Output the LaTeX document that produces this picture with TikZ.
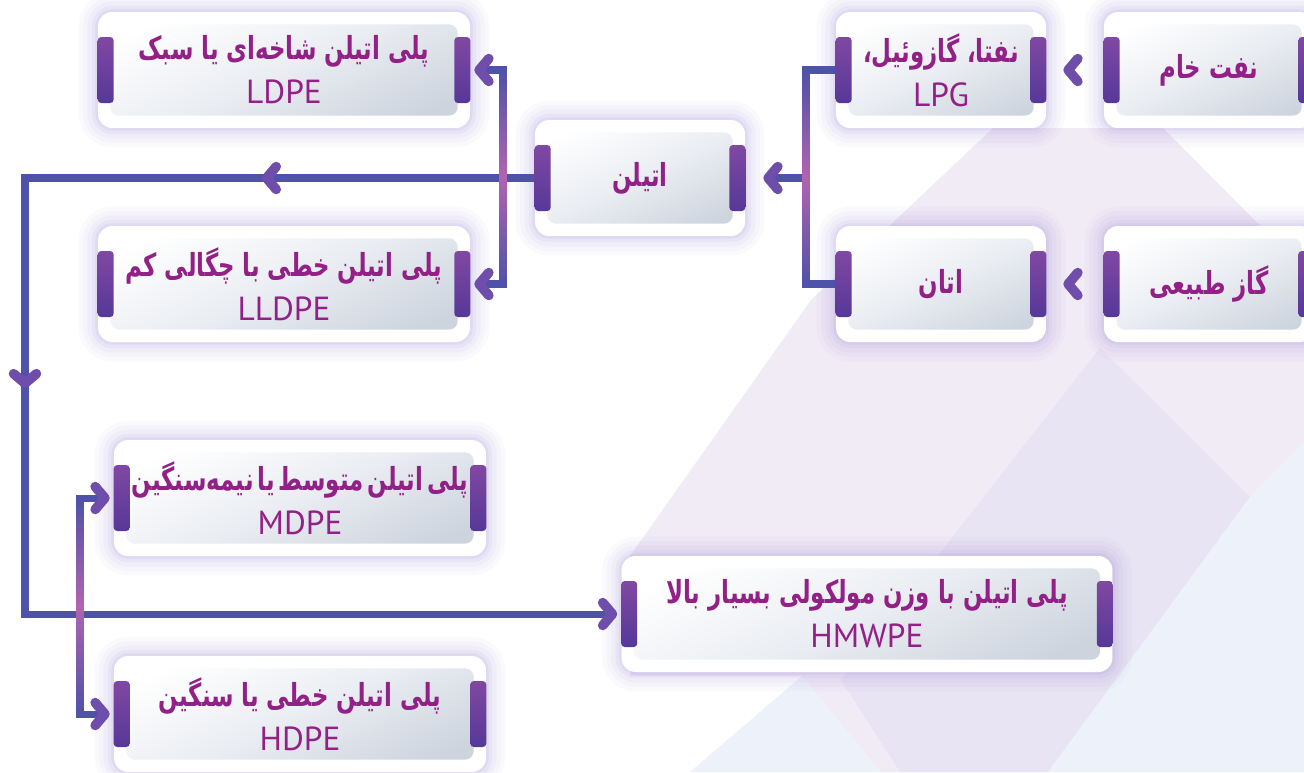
\documentclass[tikz,border=0pt]{standalone}
\usepackage{fontspec}
\setmainfont{PT Sans}
\newfontfamily\fafont[Script=Arabic,Scale=0.95,FakeStretch=0.72]{DejaVu Sans}
\TeXXeTstate=1
\usetikzlibrary{arrows.meta,decorations.markings}

\definecolor{linec}{RGB}{78,82,168}
\definecolor{pinkc}{RGB}{176,100,176}
\definecolor{tipc}{RGB}{110,78,170}
\definecolor{txtc}{RGB}{146,32,134}
\definecolor{glowc}{RGB}{140,120,210}
\definecolor{tabT}{RGB}{128,72,162}
\definecolor{tabB}{RGB}{86,56,152}
\definecolor{panelA}{RGB}{205,212,222}
\definecolor{panelB}{RGB}{234,237,242}
\definecolor{bgA}{RGB}{241,235,246}
\definecolor{bgB}{RGB}{233,228,243}
\definecolor{bgC}{RGB}{237,242,250}

\tikzset{
	pbox/.style={rounded corners=8pt, fill=white, minimum height=2.32cm, inner sep=0pt,
		align=center, text=txtc, font=\fontsize{19}{25}\selectfont,
		preaction={draw=glowc, line width=22pt, opacity=.035},
		preaction={draw=glowc, line width=17pt, opacity=.04},
		preaction={draw=glowc, line width=12pt, opacity=.05},
		preaction={draw=glowc, line width=7pt, opacity=.07},
		preaction={draw=glowc, line width=3pt, opacity=.09},
		path picture={\shade[rounded corners=5pt, bottom color=panelA, top color=white,
			middle color=panelB, shading angle=25]
			([shift={(7pt,7pt)}]path picture bounding box.south west) rectangle
			([shift={(-7pt,-7pt)}]path picture bounding box.north east);}},
	wide/.style={minimum width=7.44cm},
	small/.style={minimum width=4.2cm},
	tabbar/.style={top color=tabT, bottom color=tabB, rounded corners=2pt},
	conn/.style={draw=linec, line width=4pt},
	glint/.style={top color=linec, bottom color=linec, middle color=pinkc},
	midtips/.style 2 args={postaction={decorate}, decoration={markings,
		mark=at position #1 with {\arrow{>}}, mark=at position #2 with {\arrow{>}}}}
}
\newcommand\fa[1]{{\fafont\bfseries\beginR #1\endR}}

\begin{document}
\begin{tikzpicture}[x=0.02cm, y=-0.02cm,
	>={Straight Barb[round, length=5.5pt, width=13pt, line width=5.5pt, color=tipc]}]
	\useasboundingbox (0,0) rectangle (1304,772);
	\fill[white] (0,0) rectangle (1304,772);
	\fill[bgA] (630,556) -- (811,300) -- (993,128) -- (1163,128) -- (1304,270) -- (1304,443) -- (1250,497) -- (1048,772) -- (880,772) -- (802,676) -- (630,676) -- cycle;
	\fill[bgB] (1100,348) -- (1250,497) -- (1048,772) -- (900,772) -- (841,680) -- cycle;
	\fill[bgC] (1304,443) -- (1250,497) -- (1048,772) -- (1304,772) -- cycle;
	\fill[bgC] (690,772) -- (802,676) -- (880,772) -- cycle;

	\node[pbox, wide] (ldpe) at (284,70) {\fa{پلی اتیلن شاخه‌ای یا سبک}\\LDPE};
	\node[pbox, wide] (lldpe) at (284,284) {\fa{پلی اتیلن خطی با چگالی کم}\\LLDPE};
	\node[pbox, small] (eth) at (640,178) {\fa{اتیلن}};
	\node[pbox, small] (lpg) at (941,70) {\fa{نفتا، گازوئیل،}\\LPG};
	\node[pbox, small] (ethane) at (941,284) {\fa{اتان}};
	\node[pbox, small] (crude) at (1209,70) {\fa{نفت خام}};
	\node[pbox, small] (gas) at (1209,284) {\fa{گاز طبیعی}};
	\node[pbox, wide] (mdpe) at (300,498) {{\spaceskip=.12em\fa{پلی اتیلن متوسط یا نیمه‌سنگین}}\\MDPE};
	\node[pbox, wide] (hdpe) at (300,714) {\fa{پلی اتیلن خطی یا سنگین}\\HDPE};
	\node[pbox, minimum width=9.82cm] (hmwpe) at (867,614) {\fa{پلی اتیلن با وزن مولکولی بسیار بالا}\\HMWPE};

	\coordinate (jr) at (806,178);
	\coordinate (jl) at (503,178);
	\coordinate (c1) at (25,178);
	\coordinate (c2) at (25,614);
	\coordinate (jm) at (80,614);

	\draw[conn, ->, shorten <=0.6cm, shorten >=0.34cm] (crude.west) -- (lpg.east);
	\draw[conn, ->, shorten <=0.6cm, shorten >=0.34cm] (gas.west) -- (ethane.east);
	\draw[conn] (lpg.west) -| (jr) |- (ethane.west);
	\draw[conn, ->, shorten >=0.36cm] (jr) -- (eth.east);
	\draw[conn, ->, shorten >=0.08cm] (jl) |- (ldpe.east);
	\draw[conn, ->, shorten >=0.08cm] (jl) |- (lldpe.east);
	\draw[conn, ->, shorten >=0.08cm, midtips={5.46cm}{14.4cm}] (eth.west) -- (c1) -- (c2) -- (hmwpe.west);
	\draw[conn, ->, shorten >=0.08cm] (jm) |- (mdpe.west);
	\draw[conn, ->, shorten >=0.08cm] (jm) |- (hdpe.west);

	\shade[glint] ([xshift=-2pt]jl |- ldpe.east) rectangle ([xshift=2pt]jl |- lldpe.east);
	\shade[glint] ([xshift=-2pt]jr |- lpg.west) rectangle ([xshift=2pt]jr |- ethane.west);
	\shade[glint] ([xshift=-2pt]jm |- mdpe.west) rectangle ([xshift=2pt]jm |- hdpe.west);

	\foreach \b in {ldpe,lldpe,eth,lpg,ethane,crude,gas,mdpe,hdpe,hmwpe} {
		\shade[tabbar] (\b.west) ++(0,-33) rectangle ++(16,66);
		\shade[tabbar] (\b.east) ++(0,-33) rectangle ++(-16,66);
	}
\end{tikzpicture}
\end{document}
